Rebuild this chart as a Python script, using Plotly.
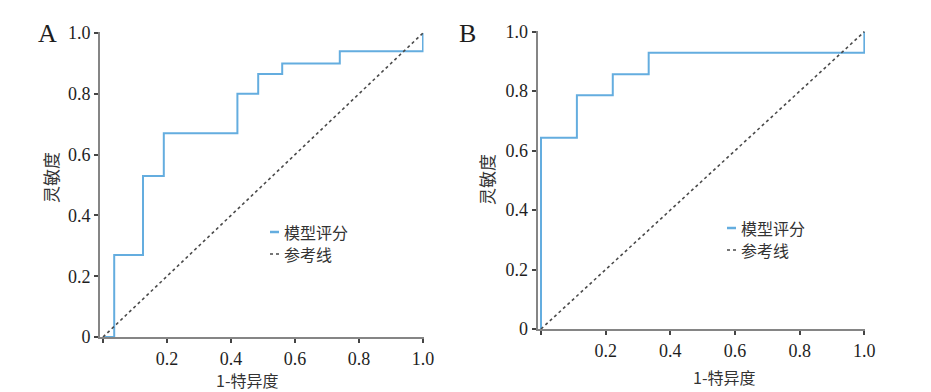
import plotly.graph_objects as go

# ---- data ----
a_fpr = [0.0, 0.035, 0.035, 0.125, 0.125, 0.19, 0.19, 0.42, 0.42, 0.485, 0.485, 0.56, 0.56, 0.74, 0.74, 1.0, 1.0]
a_tpr = [0.0, 0.0, 0.27, 0.27, 0.53, 0.53, 0.67, 0.67, 0.80, 0.80, 0.865, 0.865, 0.90, 0.90, 0.94, 0.94, 1.0]
b_fpr = [0.0, 0.0, 0.111, 0.111, 0.222, 0.222, 0.333, 0.333, 1.0, 1.0]
b_tpr = [0.0, 0.643, 0.643, 0.786, 0.786, 0.857, 0.857, 0.929, 0.929, 1.0]
ref_x = [0.0, 1.0]
ref_y = [0.0, 1.0]
tick_vals = [0, 0.2, 0.4, 0.6, 0.8, 1.0]
y_tick_text = ["0", "0.2", "0.4", "0.6", "0.8", "1.0"]
x_tick_text = ["", "0.2", "0.4", "0.6", "0.8", "1.0"]
legend_names = ["模型评分", "参考线"]
panel_labels = ["A", "B"]
x_title = "1-特异度"
y_title = "灵敏度"

W, H = 931, 392
OFF = 8  # page body margin
BLUE = "#64ADDF"
GRAY = "#858585"
DOT = "#4a4a4a"
SERIF = "Liberation Serif, Times New Roman, serif"
CJK = "Noto Sans CJK SC, sans-serif"
TXT = "#1e1e1e"

fig = go.Figure()
fig.add_trace(go.Scatter(x=a_fpr, y=a_tpr, mode="lines", line=dict(color=BLUE, width=2), xaxis="x", yaxis="y", showlegend=False))
fig.add_trace(go.Scatter(x=ref_x, y=ref_y, mode="lines", line=dict(color=DOT, width=1.6, dash="dot"), xaxis="x", yaxis="y", showlegend=False))
fig.add_trace(go.Scatter(x=b_fpr, y=b_tpr, mode="lines", line=dict(color=BLUE, width=2), xaxis="x2", yaxis="y2", showlegend=False))
fig.add_trace(go.Scatter(x=ref_x, y=ref_y, mode="lines", line=dict(color=DOT, width=1.6, dash="dot"), xaxis="x2", yaxis="y2", showlegend=False))


def px_x(p):
    return (p - OFF) / W


def px_y(p):
    return (H - (p - OFF)) / H


def xaxis(dom, rng, anchor):
    return dict(domain=dom, range=rng, anchor=anchor, tickvals=tick_vals, ticktext=x_tick_text,
                showline=True, linecolor=GRAY, linewidth=2, ticks="outside", ticklen=4, tickwidth=1.5,
                tickcolor="#444", showgrid=False, zeroline=False, automargin=False,
                tickfont=dict(family=SERIF, size=18, color=TXT))


def yaxis(dom, rng, anchor):
    return dict(domain=dom, range=rng, anchor=anchor, tickvals=tick_vals, ticktext=y_tick_text,
                showline=True, linecolor=GRAY, linewidth=2, ticks="outside", ticklen=4, tickwidth=1.5,
                tickcolor="#444", showgrid=False, zeroline=False, automargin=False,
                tickfont=dict(family=SERIF, size=18, color=TXT))


fig.update_layout(
    width=W, height=H, margin=dict(l=0, r=0, t=0, b=0, autoexpand=False),
    showlegend=False,
    paper_bgcolor="white", plot_bgcolor="white",
    xaxis=xaxis([px_x(100), px_x(423.5)], [-0.0094, 1.0016], "y"),
    yaxis=yaxis([px_y(337), px_y(32)], [0, 1.0033], "x"),
    xaxis2=xaxis([px_x(537.7), px_x(865)], [-0.0102, 1.002], "y2"),
    yaxis2=yaxis([px_y(329), px_y(30.7)], [0, 1.0034], "x2"),
)

ann = []
shapes = []
# panel labels
for lbl, xc, yc in [(panel_labels[0], 47, 33), (panel_labels[1], 467, 33)]:
    ann.append(dict(text=lbl, x=px_x(xc), y=px_y(yc), xref="paper", yref="paper", showarrow=False,
                    xanchor="center", yanchor="middle", font=dict(family=SERIF, size=26, color=TXT)))
# axis titles
for xc, yc in [(247, 380), (724, 377)]:
    ann.append(dict(text=x_title, x=px_x(xc), y=px_y(yc), xref="paper", yref="paper", showarrow=False,
                    xanchor="center", yanchor="middle", borderpad=0, font=dict(family=CJK, size=16, color="#333")))
for xc, yc in [(50, 178), (487, 179)]:
    ann.append(dict(text=y_title, x=px_x(xc), y=px_y(yc), xref="paper", yref="paper", showarrow=False,
                    textangle=-90, xanchor="center", yanchor="middle", font=dict(family=CJK, size=17, color="#333")))
# legends
for lx, ly1, ly2 in [(270, 232, 254), (727, 228, 250)]:
    shapes.append(dict(type="line", xref="paper", yref="paper", x0=px_x(lx), x1=px_x(lx + 9),
                       y0=px_y(ly1), y1=px_y(ly1), line=dict(color=BLUE, width=2.5)))
    shapes.append(dict(type="line", xref="paper", yref="paper", x0=px_x(lx), x1=px_x(lx + 9),
                       y0=px_y(ly2), y1=px_y(ly2), line=dict(color=DOT, width=1.6, dash="dot")))
    for name, yy in zip(legend_names, [ly1, ly2]):
        ann.append(dict(text=name, x=px_x(lx + 13), y=px_y(yy), xref="paper", yref="paper",
                        showarrow=False, align="left", borderpad=0,
                        xanchor="left", yanchor="middle", font=dict(family=CJK, size=16, color="#333")))

fig.update_layout(annotations=ann, shapes=shapes)
fig.write_html("out.html")
